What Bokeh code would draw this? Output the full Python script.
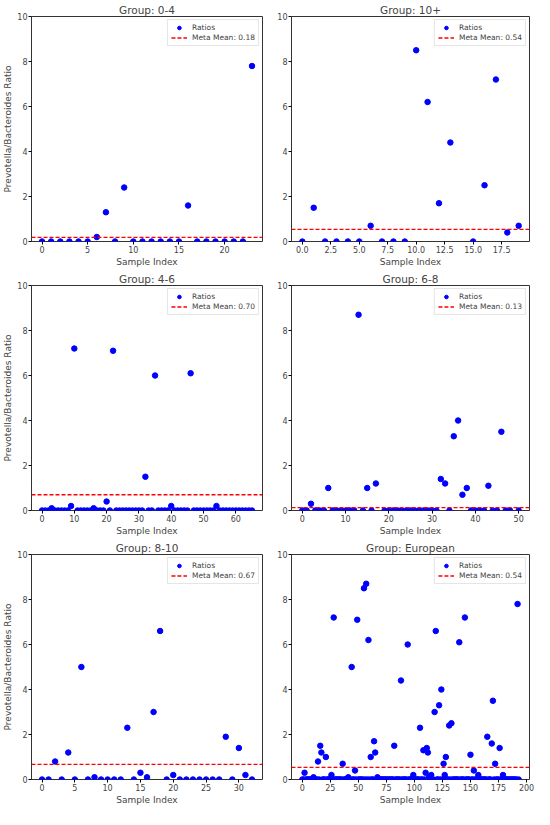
import numpy as np
from bokeh.plotting import figure
from bokeh.models import Range1d, Legend, LegendItem, FixedTicker
from bokeh.layouts import gridplot
from bokeh.embed import file_html
from bokeh.resources import INLINE

# groups in the order they are drawn (row by row)
groups = ["0-4", "10+", "4-6", "6-8", "8-10", "European"]
n_samples = [24, 20, 66, 51, 33, 194]
meta_means = [0.18, 0.54, 0.70, 0.13, 0.67, 0.54]

# non-zero ratios per group (sample index -> ratio), every other sample is 0
idx_0_4 = [6, 7, 9, 16, 23]
val_0_4 = [0.2, 1.3, 2.4, 1.6, 7.8]

idx_10p = [1, 6, 10, 11, 12, 13, 16, 17, 18, 19]
val_10p = [1.5, 0.7, 8.5, 6.2, 1.7, 4.4, 2.5, 7.2, 0.4, 0.7]
missing_10p = [14]

idx_4_6 = [3, 9, 10, 16, 20, 22, 32, 35, 40, 46, 54]
val_4_6 = [0.1, 0.2, 7.2, 0.1, 0.4, 7.1, 1.5, 6.0, 0.2, 6.1, 0.2]

idx_6_8 = [2, 6, 13, 15, 17, 32, 33, 35, 36, 37, 38, 43, 46]
val_6_8 = [0.3, 1.0, 8.7, 1.0, 1.2, 1.4, 1.2, 3.3, 4.0, 0.7, 1.0, 1.1, 3.5]
missing_6_8 = [18, 49]

idx_8_10 = [2, 4, 6, 8, 13, 15, 16, 17, 18, 20, 28, 30, 31]
val_8_10 = [0.8, 1.2, 5.0, 0.1, 2.3, 0.3, 0.1, 3.0, 6.6, 0.2, 1.9, 1.4, 0.2]

idx_eu = [2, 10, 14, 16, 17, 21, 26, 28, 36, 41, 44, 47, 49, 55, 57, 59, 61,
          64, 65, 67, 82, 88, 94, 99, 105, 108, 110, 111, 112, 113, 115, 118,
          119, 122, 124, 126, 127, 128, 131, 133, 140, 145, 150, 153, 157,
          165, 169, 170, 172, 176, 179, 192]
val_eu = [0.3, 0.1, 0.8, 1.5, 1.2, 1.0, 0.2, 7.2, 0.7, 0.1, 5.0, 0.4, 7.1,
          8.5, 8.7, 6.2, 1.0, 1.7, 1.2, 0.1, 1.5, 4.4, 6.0, 0.2, 2.3, 1.3,
          0.3, 1.4, 1.2, 0.1, 0.2, 3.0, 6.6, 3.3, 4.0, 0.7, 0.2, 1.0, 2.4,
          2.5, 6.1, 7.2, 1.1, 0.4, 0.2, 1.9, 1.6, 3.5, 0.7, 1.4, 0.2, 7.8]

sparse = [(idx_0_4, val_0_4, []), (idx_10p, val_10p, missing_10p),
          (idx_4_6, val_4_6, []), (idx_6_8, val_6_8, missing_6_8),
          (idx_8_10, val_8_10, []), (idx_eu, val_eu, [])]

FONT = "DejaVu Sans"


def make_panel(name, n, idx, vals, missing, mean, col):
    y = np.zeros(n)
    y[idx] = vals
    y[missing] = np.nan
    x = np.arange(n)
    pad = (n - 1) * 0.05
    x0, x1 = -pad, n - 1 + pad

    p = figure(width=267, height=269, output_backend="svg", toolbar_location=None,
               x_range=Range1d(x0, x1), y_range=Range1d(0, 10),
               min_border_left=24, min_border_right=5, min_border_top=0,
               min_border_bottom=1)
    p.title.text = f"Group: {name}"
    p.title.align = "center"
    p.title.text_font = FONT
    p.title.text_font_size = "10.5px"
    p.title.text_font_style = "normal"
    p.title.offset = 0
    p.title.standoff = 2

    p.grid.visible = False
    p.outline_line_color = "#333333"
    for ax in (p.xaxis[0], p.yaxis[0]):
        ax.axis_line_color = None
        ax.axis_label_text_font = FONT
        ax.axis_label_text_font_size = "9px"
        ax.axis_label_text_font_style = "normal"
        ax.major_label_text_font = FONT
        ax.major_label_text_font_size = "8px"
        ax.major_tick_out = 3
        ax.major_tick_in = 0
        ax.minor_tick_line_color = None
        ax.axis_label_standoff = 1
        ax.major_label_standoff = 1
    p.xaxis.axis_label = "Sample Index"
    if col == 0:
        p.yaxis.axis_label = "Prevotella/Bacteroides Ratio"
    p.yaxis.ticker = FixedTicker(ticks=[0, 2, 4, 6, 8, 10])
    if name == "10+":
        ticks = [0, 2.5, 5, 7.5, 10, 12.5, 15, 17.5]
        p.xaxis.ticker = FixedTicker(ticks=ticks)
        p.xaxis.major_label_overrides = {t: f"{t:.1f}" for t in ticks}
    else:
        step = {24: 5, 66: 10, 51: 10, 33: 5, 194: 25}[n]
        p.xaxis.ticker = FixedTicker(ticks=list(range(0, n + step, step)))

    pts = p.scatter(x, y, size=5.5, fill_color="blue", line_color="blue")
    # horizontal mean line spanning the whole x range (like axhline)
    mline = p.line([x0, x1], [mean, mean], line_color="red", line_dash="4 2",
                   line_width=1.3)

    legend = Legend(items=[LegendItem(label="Ratios", renderers=[pts]),
                           LegendItem(label=f"Meta Mean: {mean:.2f}", renderers=[mline])],
                    location="top_right")
    legend.label_text_font = FONT
    legend.label_text_font_size = "7.5px"
    legend.label_height = 8
    legend.glyph_height = 9
    legend.glyph_width = 16
    legend.spacing = 1
    legend.padding = 3
    legend.margin = 3
    legend.label_standoff = 5
    legend.border_line_color = "#cccccc"
    legend.background_fill_alpha = 0.9
    p.add_layout(legend)
    return p


panels = []
for i, name in enumerate(groups):
    idx, vals, missing = sparse[i]
    panels.append(make_panel(name, n_samples[i], idx, vals, missing,
                             meta_means[i], i % 2))

grid = gridplot(panels, ncols=2, toolbar_location=None)
open("out.html", "w").write(file_html(grid, INLINE))
